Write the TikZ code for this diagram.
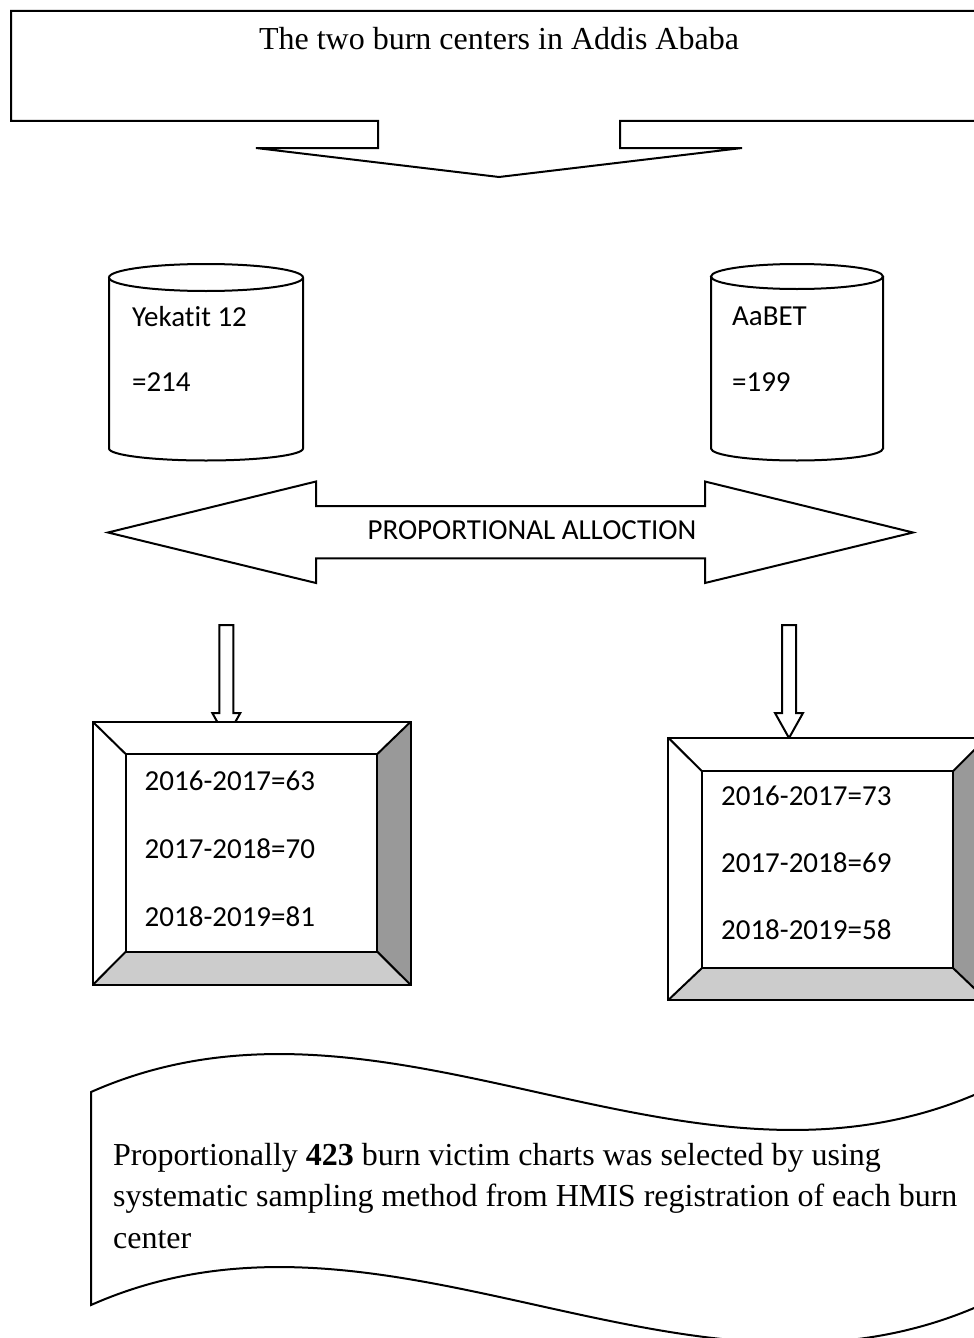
\documentclass[tikz,border=0pt]{standalone}
\usepackage{fontspec}
\setmainfont{Liberation Serif}
\newfontfamily\calib[Ligatures=NoCommon]{Carlito}
\begin{document}
\begin{tikzpicture}[x=0.5pt,y=-0.5pt,
  shp/.style={draw=black,line width=1pt,fill=white,line join=miter},
  edge/.style={draw=black,line width=1pt},
  serif/.style={inner sep=0pt,font=\fontsize{16}{20}\selectfont},
  cal/.style={inner sep=0pt,font=\calib\fontsize{14.5}{17}\selectfont},
  darkbevel/.style={fill=black!40},
  lightbevel/.style={fill=black!20}]
\useasboundingbox (0,0) rectangle (974,1338);
\clip (0,0) rectangle (974,1338);
\fill[white] (0,0) rectangle (974,1338);

% top callout with down arrow
\draw[shp] (11,11) -- (1000,11) -- (1000,121) -- (620,121) -- (620,148) -- (742,148)
  -- (499,177) -- (256,148) -- (378,148) -- (378,121) -- (11,121) -- cycle;
\node[serif,anchor=base] (title) at (499,50) {The two burn centers in Addis Ababa};

% left cylinder
\draw[shp] (109,277.5) -- (109,448.5) arc[start angle=180,end angle=0,x radius=97,y radius=12] -- (303,277.5);
\draw[shp] (206,277.5) ellipse [x radius=97,y radius=13.5];
\node[cal,anchor=base west] (yek) at (131.7,326) {Yekatit 12};
\node[cal,anchor=base west] (yeknum) at (131.7,391.7) {=214};

% right cylinder
\draw[shp] (711,276.5) -- (711,448.5) arc[start angle=180,end angle=0,x radius=86,y radius=12] -- (883,276.5);
\draw[shp] (797,276.5) ellipse [x radius=86,y radius=12.5];
\node[cal,anchor=base west] (aabet) at (731.7,325) {AaBET};
\node[cal,anchor=base west] (aabetnum) at (731.7,391.7) {=199};

% double arrow
\draw[shp] (108,532.5) -- (316,481.5) -- (316,506) -- (705,506) -- (705,481.5) -- (913,532.5)
  -- (705,583) -- (705,558.3) -- (316,558.3) -- (316,583) -- cycle;
\node[cal,anchor=base] (alloc) at (532,539.3) {PROPORTIONAL ALLOCTION};

% small down arrows
\draw[shp] (219.3,625) -- (233.3,625) -- (233.3,713) -- (240.3,713) -- (226.3,738)
  -- (212.3,713) -- (219.3,713) -- cycle;
\draw[shp] (782,625) -- (796,625) -- (796,713) -- (803,713) -- (789,738)
  -- (775,713) -- (782,713) -- cycle;

% left bevel box
\draw[shp] (92.7,721.7) rectangle (410.7,985);
\fill[darkbevel] (410.7,721.7) -- (410.7,985) -- (377.3,951.7) -- (377.3,754) -- cycle;
\fill[lightbevel] (92.7,985) -- (410.7,985) -- (377.3,951.7) -- (125.7,951.7) -- cycle;
\draw[edge] (92.7,721.7) rectangle (410.7,985);
\draw[edge] (125.7,754) rectangle (377.3,951.7);
\draw[edge] (92.7,721.7) -- (125.7,754) (410.7,721.7) -- (377.3,754)
  (92.7,985) -- (125.7,951.7) (410.7,985) -- (377.3,951.7);
\node[cal,anchor=base west] (l1) at (144.3,790) {2016-2017=63};
\node[cal,anchor=base west] (l2) at (144.3,858) {2017-2018=70};
\node[cal,anchor=base west] (l3) at (144.3,926) {2018-2019=81};

% right bevel box
\draw[shp] (668.3,737.7) rectangle (986.5,1000);
\fill[darkbevel] (986.5,737.7) -- (986.5,1000) -- (953.3,968.3) -- (953.3,771) -- cycle;
\fill[lightbevel] (668.3,1000) -- (986.5,1000) -- (953.3,968.3) -- (701.7,968.3) -- cycle;
\draw[edge] (668.3,737.7) rectangle (986.5,1000);
\draw[edge] (701.7,771) rectangle (953.3,968.3);
\draw[edge] (668.3,737.7) -- (701.7,771) (986.5,737.7) -- (953.3,771)
  (668.3,1000) -- (701.7,968.3) (986.5,1000) -- (953.3,968.3);
\node[cal,anchor=base west] (r1) at (720.7,805.5) {2016-2017=73};
\node[cal,anchor=base west] (r2) at (720.7,872.5) {2017-2018=69};
\node[cal,anchor=base west] (r3) at (720.7,939.5) {2018-2019=58};

% wave
\draw[shp] (91,1092) .. controls (388,960.5) and (684,1223.5) .. (981,1092) -- (981,1305)
  .. controls (684,1436.5) and (388,1173.5) .. (91,1305) -- cycle;
\node[serif,anchor=base west] (w1) at (112.7,1165) {Proportionally \textbf{423} burn victim charts was selected by using};
\node[serif,anchor=base west] (w2) at (112.7,1206.5) {systematic sampling method from HMIS registration of each burn};
\node[serif,anchor=base west] (w3) at (112.7,1248) {center};
\end{tikzpicture}
\end{document}
